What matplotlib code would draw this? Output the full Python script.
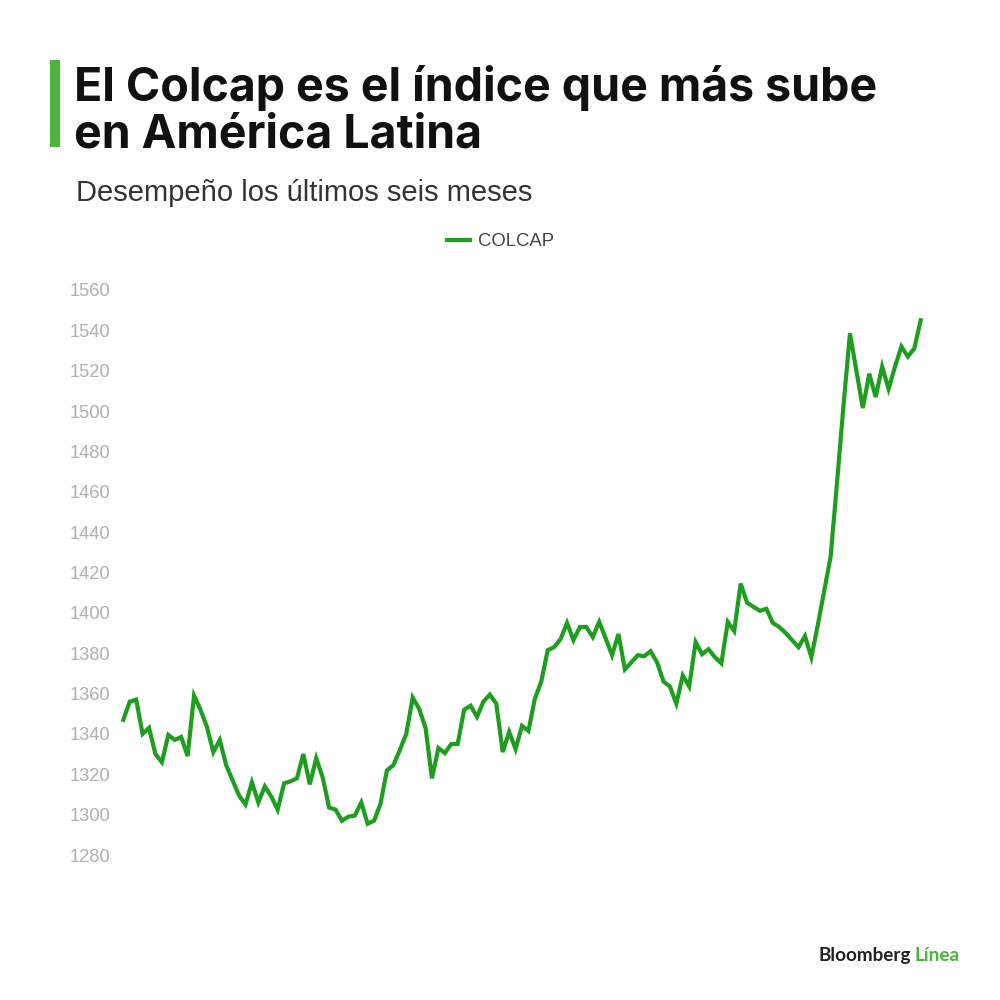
import matplotlib
matplotlib.use("Agg")
import matplotlib.pyplot as plt
from matplotlib.patches import Rectangle
from matplotlib.lines import Line2D

title_lines = ["El Colcap es el índice que más sube", "en América Latina"]
subtitle = "Desempeño los últimos seis meses"
series_name = "COLCAP"
yticks = [1280, 1300, 1320, 1340, 1360, 1380, 1400, 1420, 1440, 1460,
          1480, 1500, 1520, 1540, 1560]
colcap = [
    1347, 1356, 1357, 1340, 1343, 1330, 1326, 1339.5, 1337, 1338.5,
    1329, 1359, 1352, 1343.5, 1331, 1337, 1324.5, 1317, 1309.5, 1305,
    1316, 1306, 1314, 1309, 1302.5, 1315.5, 1316.5, 1318, 1330, 1315,
    1328, 1318.5, 1303.5, 1302.5, 1297, 1299, 1299.5, 1306, 1295.5, 1297,
    1305.5, 1322, 1324.5, 1332, 1340, 1358, 1352.5, 1343, 1318, 1333,
    1330.5, 1335, 1335, 1352, 1354, 1348.5, 1356, 1359.5, 1355, 1331,
    1341, 1332.5, 1344, 1341.5, 1357.5, 1366, 1381.5, 1383, 1387, 1395,
    1386.5, 1393, 1393, 1388, 1395.5, 1387.5, 1379, 1389.5, 1372, 1375.5,
    1379, 1378.5, 1381, 1375.5, 1366, 1363.5, 1355, 1369, 1363.5, 1385.5,
    1379.5, 1382, 1378, 1375, 1395.5, 1391, 1414.5, 1405, 1403, 1401,
    1402, 1395, 1393, 1390, 1386.5, 1383, 1388.5, 1378, 1394, 1411,
    1428, 1465, 1503, 1538.5, 1520, 1501.5, 1518.5, 1507, 1522, 1511,
    1522, 1532, 1527, 1531, 1545,
]
days = list(range(len(colcap)))

LINE_GREEN = "#1e9e1e"
BAR_GREEN = "#4cb33d"

fig = plt.figure(figsize=(10, 10), dpi=100)
fig.patch.set_facecolor("white")

ax = fig.add_axes([0.1233, 0.145, 0.7974, 0.565])
ax.plot(days, colcap, color=LINE_GREEN, lw=3.0, solid_joinstyle="miter",
        clip_on=False)
ax.set_xlim(0, len(colcap) - 1)
ax.set_ylim(1280, 1560)
ax.set_yticks(yticks)
ax.set_yticklabels([str(t) for t in yticks])
ax.set_xticks([])
for s in ax.spines.values():
    s.set_visible(False)
ax.tick_params(axis="y", length=0, pad=9.5, labelcolor="#b0b0b0")
for lab in ax.get_yticklabels():
    lab.set_fontfamily("Liberation Sans")
    lab.set_fontsize(13.2)

# Title bar
fig.add_artist(Rectangle((0.050, 1 - 0.147), 0.010, 0.087, transform=fig.transFigure,
                         color=BAR_GREEN, lw=0))
fig.text(0.074, 1 - 0.101, title_lines[0], fontsize=33.5, fontweight="bold",
         family="Inter", color="#111111", va="baseline", ha="left")
fig.text(0.074, 1 - 0.147, title_lines[1], fontsize=33.5, fontweight="bold",
         family="Inter", color="#111111", va="baseline", ha="left")
fig.text(0.076, 1 - 0.201, subtitle, fontsize=21, family="Liberation Sans",
         color="#333333", va="baseline", ha="left")

# Legend
fig.add_artist(Line2D([0.447, 0.470], [1 - 0.240, 1 - 0.240], transform=fig.transFigure,
                      color=LINE_GREEN, lw=3))
fig.text(0.478, 1 - 0.2455, series_name, fontsize=13.3, family="Liberation Sans",
         color="#444444", va="baseline", ha="left")

# Logo
fig.text(0.818, 0.039, "Bloomberg", fontsize=13.6, fontweight="bold",
         family="Lato", color="#222222", va="baseline", ha="left")
fig.text(0.914, 0.039, "Línea", fontsize=13.6, fontweight="bold", family="Lato",
         color=BAR_GREEN, va="baseline", ha="left")

fig.savefig("out.png", dpi=100, facecolor="white")
